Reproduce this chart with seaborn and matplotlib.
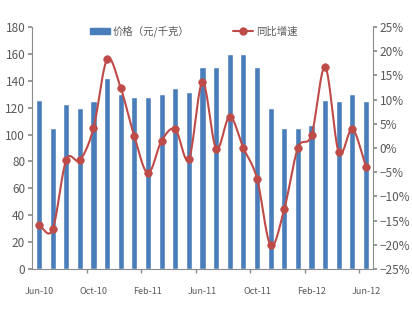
import numpy as np
import pandas as pd
import matplotlib
matplotlib.use("Agg")
import matplotlib.pyplot as plt
import seaborn as sns
from matplotlib.patches import Patch
from matplotlib.lines import Line2D

months = ["Jun-10", "Jul-10", "Aug-10", "Sep-10", "Oct-10", "Nov-10", "Dec-10",
          "Jan-11", "Feb-11", "Mar-11", "Apr-11", "May-11", "Jun-11", "Jul-11",
          "Aug-11", "Sep-11", "Oct-11", "Nov-11", "Dec-11", "Jan-12", "Feb-12",
          "Mar-12", "Apr-12", "May-12", "Jun-12"]
price = [126, 105, 123, 120, 125, 142, 130, 128, 128, 130, 135, 132, 150, 150,
         160, 160, 150, 120, 105, 105, 107, 126, 125, 130, 125]
growth = [-16.0, -16.8, -2.5, -2.5, 4.1, 18.3, 12.4, 2.4, -5.2, 1.5, 3.9, -2.3,
          13.6, -0.1, 6.5, 0.0, -6.3, -20.1, -12.6, 0.0, 2.7, 16.7, -0.9, 3.9, -3.9]
label_months = ["Jun-10", "Oct-10", "Feb-11", "Jun-11", "Oct-11", "Feb-12", "Jun-12"]
left_ticks = [0, 20, 40, 60, 80, 100, 120, 140, 160, 180]
right_ticks = [-25, -20, -15, -10, -5, 0, 5, 10, 15, 20, 25]

sns.set_theme(style="white")
plt.rcParams['font.family'] = ['Noto Sans CJK SC', 'DejaVu Sans']

bar_color = "#4A7EBB"
line_color = "#BE4B48"
grey = "#8C8C8C"
text_color = "#595959"

df = pd.DataFrame({"month": months, "price": price, "growth": growth})
df["idx"] = np.arange(len(df))

fig = plt.figure(figsize=(4.12, 3.18), dpi=100)
ax = fig.add_axes([0.078, 0.154, 0.827, 0.761])

sns.barplot(data=df, x="month", y="price", color=bar_color, width=0.45,
            saturation=1, ax=ax)
ax.set_xlim(-0.5, len(months) - 0.5)
ax.set_ylim(0, 180)
ax.set_yticks(left_ticks)
ax.set_xlabel("")
ax.set_ylabel("")

ax2 = ax.twinx()
# smooth curve through the points (Catmull-Rom)
x = df["idx"].to_numpy(float)
y = df["growth"].to_numpy(float)
P = np.concatenate([[2 * y[0] - y[1]], y, [2 * y[-1] - y[-2]]])
xs, ys = [], []
for i in range(len(y) - 1):
    p0, p1, p2, p3 = P[i], P[i + 1], P[i + 2], P[i + 3]
    t = np.linspace(0, 1, 20, endpoint=False)
    yy = 0.5 * ((2 * p1) + (-p0 + p2) * t + (2 * p0 - 5 * p1 + 4 * p2 - p3) * t ** 2
                + (-p0 + 3 * p1 - 3 * p2 + p3) * t ** 3)
    xs.append(x[i] + t)
    ys.append(yy)
xs.append([x[-1]]); ys.append([y[-1]])
smooth = pd.DataFrame({"x": np.concatenate(xs), "y": np.concatenate(ys)})
sns.lineplot(data=smooth, x="x", y="y", color=line_color, lw=1.5, ax=ax2, sort=False)
sns.scatterplot(data=df, x="idx", y="growth", color=line_color, s=30, edgecolor=line_color,
                ax=ax2, zorder=5)
ax2.set_ylim(-25, 25)
ax2.set_yticks(right_ticks)
ax2.set_yticklabels([f"{v}%".replace("-", "−") for v in right_ticks])
ax2.set_xlim(-0.5, len(months) - 0.5)
ax2.set_xlabel("")
ax2.set_ylabel("")

# x ticks
ax.set_xticks([months.index(m) for m in label_months])
ax.set_xticklabels(label_months)
ax.set_xticks([3.5, 7.5, 11.5, 15.5, 19.5, 23.5], minor=True)
ax.tick_params(axis="x", which="major", length=0, labelsize=6.5, colors=text_color, pad=13)
ax.tick_params(axis="x", which="minor", length=3, color=grey, bottom=True)
ax.tick_params(axis="y", length=3, color=grey, labelsize=8.5, labelcolor=text_color, left=True, pad=2)
ax2.tick_params(axis="y", length=3, color=grey, labelsize=8.5, labelcolor=text_color, right=True, pad=2)

for a in (ax, ax2):
    a.spines["top"].set_visible(False)
    for s in ["left", "right", "bottom"]:
        a.spines[s].set_color(grey)
        a.spines[s].set_linewidth(0.8)
ax.spines["right"].set_visible(False)
ax2.spines["left"].set_visible(False)
ax2.spines["bottom"].set_visible(False)

handles = [Patch(color=bar_color), Line2D([0], [0], color=line_color, marker="o", ms=5, lw=1.5)]
leg = fig.legend(handles, ["价格（元/千克）", "同比增速"], loc="center", bbox_to_anchor=(0.47, 0.902),
                 ncol=2, frameon=False, fontsize=7.5, handlelength=1.9, handleheight=0.5,
                 columnspacing=4.2, handletextpad=0.3)
for t in leg.get_texts():
    t.set_color(text_color)

fig.savefig("out.png", dpi=100)
